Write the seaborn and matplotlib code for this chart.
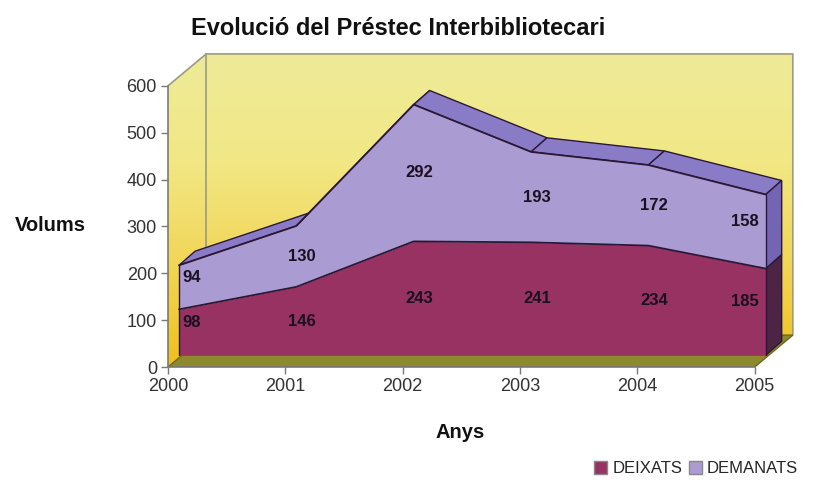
import matplotlib
matplotlib.use("Agg")
import matplotlib.pyplot as plt
import numpy as np
import seaborn as sns
from matplotlib.colors import LinearSegmentedColormap
from matplotlib.patches import Patch, Polygon

years = [2000, 2001, 2002, 2003, 2004, 2005]
deixats = [98, 146, 243, 241, 234, 185]
demanats = [94, 130, 292, 193, 172, 158]
series_names = ["DEIXATS", "DEMANATS"]
y_ticks = [0, 100, 200, 300, 400, 500, 600]

# pseudo-3D depth offsets in data units (years, volums)
FRONT = (0.094, 25)
BACK = (0.23, 55)
WALL = (0.325, 68)

C_DEIX = "#983262"
C_DEIX_SIDE = "#4e2444"
C_DEM = "#ab9bd3"
C_DEM_TOP = "#8a7bc6"
C_DEM_SIDE = "#7464b4"
EDGE = "#2a1838"

sns.set_theme(style="white")
plt.rcParams["font.family"] = ["Liberation Sans", "DejaVu Sans"]

fig = plt.figure(figsize=(8.13, 4.91), dpi=100)
ax = fig.add_axes([168 / 813, 124 / 491, 626 / 813, 314 / 491])
ax.set_xlim(years[0], years[-1] + WALL[0] + 0.01)
ax.set_ylim(0, y_ticks[-1] + WALL[1] + 2)

x = np.asarray(years, dtype=float)
d1 = np.asarray(deixats, dtype=float)
d2 = d1 + np.asarray(demanats, dtype=float)
x0, x1, ymax = x[0], x[-1], y_ticks[-1]

# walls with yellow gradient
wall = Polygon([(x0, 0), (x0 + WALL[0], WALL[1]), (x1 + WALL[0], WALL[1]),
                (x1 + WALL[0], ymax + WALL[1]), (x0 + WALL[0], ymax + WALL[1]), (x0, ymax)],
               closed=True, facecolor="none", edgecolor="none")
ax.add_patch(wall)
cmap = LinearSegmentedColormap.from_list("wall", ["#f0c01a", "#f2d658", "#f1e886", "#eeea98"])
grad = np.linspace(0, 1, 256).reshape(-1, 1)
im = ax.imshow(grad, extent=[x0, x1 + WALL[0], 0, ymax + WALL[1]], origin="lower",
               aspect="auto", cmap=cmap, zorder=0)
im.set_clip_path(wall)
for xs, ys in [
    ([x0 + WALL[0], x0 + WALL[0]], [WALL[1], ymax + WALL[1]]),
    ([x0, x0 + WALL[0], x1 + WALL[0], x1 + WALL[0]], [ymax, ymax + WALL[1], ymax + WALL[1], WALL[1]]),
]:
    ax.plot(xs, ys, color="#9a9a8a", lw=1.2, zorder=1)

# floor
ax.add_patch(Polygon([(x0, 0), (x1, 0), (x1 + WALL[0], WALL[1]), (x0 + WALL[0], WALL[1])],
                     closed=True, facecolor="#8c8a2c", edgecolor="#6a6820", lw=1, zorder=1))

# series in pseudo 3D
xf = x + FRONT[0]
xb = x + BACK[0]
for i in range(len(years) - 1):
    ax.add_patch(Polygon([(xf[i], d2[i] + FRONT[1]), (xf[i + 1], d2[i + 1] + FRONT[1]),
                          (xb[i + 1], d2[i + 1] + BACK[1]), (xb[i], d2[i] + BACK[1])],
                         closed=True, facecolor=C_DEM_TOP, edgecolor=EDGE, lw=1, zorder=2))
for lo, hi, col in [(0.0, d1[-1], C_DEIX_SIDE), (d1[-1], d2[-1], C_DEM_SIDE)]:
    ax.add_patch(Polygon([(xf[-1], lo + FRONT[1]), (xb[-1], lo + BACK[1]),
                          (xb[-1], hi + BACK[1]), (xf[-1], hi + FRONT[1])],
                         closed=True, facecolor=col, edgecolor=EDGE, lw=1, zorder=2))

ax.fill_between(xf, FRONT[1], d1 + FRONT[1], color=C_DEIX, lw=0, zorder=3)
ax.fill_between(xf, d1 + FRONT[1], d2 + FRONT[1], color=C_DEM, lw=0, zorder=3)
for top in (d1, d2):
    sns.lineplot(x=xf, y=top + FRONT[1], color=EDGE, lw=1.3, ax=ax, zorder=4,
                 estimator=None, sort=False)
for xe, ye in [(xf[0], d2[0]), (xf[-1], d2[-1])]:
    ax.plot([xe, xe], [FRONT[1], ye + FRONT[1]], color=EDGE, lw=1, zorder=4)

# value labels
n = len(years)
for i, yr in enumerate(xf):
    end = i in (0, n - 1)
    ha = "left" if i == 0 else ("right" if i == n - 1 else "center")
    xt = yr + (0.03 if i == 0 else (-0.06 if i == n - 1 else 0.05))
    lift = 22 if end else 0
    ax.text(xt, FRONT[1] + d1[i] / 2 + lift, str(deixats[i]), ha=ha, va="center",
            fontsize=12, fontweight="bold", color="#1a1020", zorder=5)
    ax.text(xt, FRONT[1] + d1[i] + demanats[i] / 2 + lift, str(demanats[i]), ha=ha,
            va="center", fontsize=12, fontweight="bold", color="#1a1020", zorder=5)

# axes
for side in ("top", "right"):
    ax.spines[side].set_visible(False)
ax.spines["left"].set_bounds(0, ymax)
ax.spines["bottom"].set_bounds(x0, x1)
for side in ("left", "bottom"):
    ax.spines[side].set_color("#7a7a7a")
    ax.spines[side].set_linewidth(1.2)
    ax.spines[side].set_zorder(6)
ax.set_xticks(years)
ax.set_yticks(y_ticks)
ax.tick_params(axis="both", direction="out", length=5, width=1, color="#7a7a7a",
               labelsize=13, labelcolor="#333333", pad=3)
ax.tick_params(left=True, bottom=True)

fig.text(0.49, 0.942, "Evolució del Préstec Interbibliotecari", ha="center", va="center",
         fontsize=17, fontweight="bold", color="#111111")
fig.text(0.062, 0.54, "Volums", ha="center", va="center", fontsize=14.5,
         fontweight="bold", color="#111111")
fig.text(0.566, 0.12, "Anys", ha="center", va="center", fontsize=14.5,
         fontweight="bold", color="#111111")

handles = [Patch(facecolor=C_DEIX, edgecolor="#888888"), Patch(facecolor=C_DEM, edgecolor="#888888")]
fig.legend(handles, series_names, loc="center right", bbox_to_anchor=(0.99, 0.045), ncol=2,
           frameon=False, fontsize=12, handlelength=0.8, handleheight=0.8,
           handletextpad=0.3, columnspacing=0.4, borderaxespad=0)

fig.savefig("out.png", dpi=100)
